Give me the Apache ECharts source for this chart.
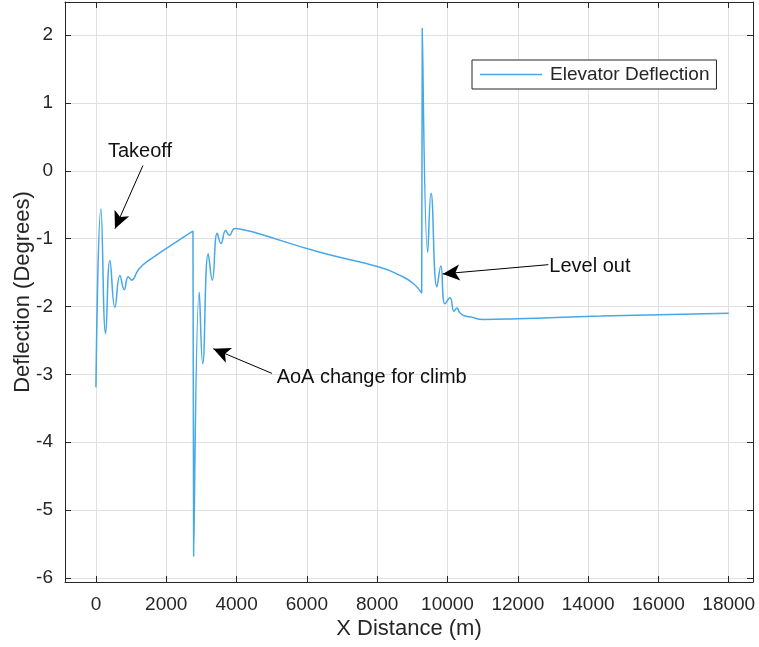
<!DOCTYPE html>
<html>
<head>
<meta charset="utf-8">
<script src="https://cdn.jsdelivr.net/npm/echarts@6/dist/echarts.min.js"></script>
<style>html,body{margin:0;padding:0;background:#fff}#c{width:759px;height:647px}</style>
</head>
<body>
<div id="c"></div>
<script>
// X distance (m)
var xDistance = [0, 142, 276, 398, 541, 683, 805, 919, 1016, 1203, 1442, 2760, 2780, 2939, 3036, 3195, 3309, 3451, 3556, 3690, 3792, 3955, 4287, 4475, 6373, 8080, 8649, 9027, 9266, 9283, 9437, 9531, 9700, 9810, 9930, 10071, 10185, 10270, 10336, 10450, 10640, 11019, 11969, 14357, 18000];
// Elevator deflection (degrees)
var deflection = [-3.19, -0.56, -2.40, -1.32, -2.01, -1.54, -1.75, -1.56, -1.61, -1.46, -1.34, -0.89, -5.68, -1.79, -2.84, -1.22, -1.61, -0.92, -1.07, -0.88, -0.95, -0.85, -0.88, -0.90, -1.20, -1.42, -1.54, -1.66, -1.80, 2.10, -1.20, -0.33, -1.71, -1.40, -1.96, -1.87, -2.07, -2.02, -2.08, -2.13, -2.15, -2.19, -2.18, -2.14, -2.10];
var seriesName = 'Elevator Deflection';
// Annotations: text, text anchor, arrow start, arrow tip (data coords)
var annotationTexts = ['Takeoff', 'AoA change for climb', 'Level out'];
var annotationTextAt = [[341, 0.28], [5140, -3.05], [12897, -1.41]];
var arrowFrom = [[1337, 0.08], [5007, -2.985], [12869, -1.382]];
var arrowTo = [[541, -0.851], [3338, -2.621], [9864, -1.518]];
var xRange = [-880, 18690];
var yRange = [-6.06, 2.49];

var FONT = "'Liberation Sans', Arial, Helvetica, sans-serif";
var INK = '#262626';
var data = xDistance.map(function (x, i) { return [x, deflection[i]]; });

var chart = echarts.init(document.getElementById('c'), null, {renderer: 'canvas'});
function intFmt(step) {
  return function (v) { return Math.abs(v / step - Math.round(v / step)) < 1e-6 ? String(Math.round(v)) : ''; };
}
var baseAxis = {
  axisLine: {show: true, onZero: false, lineStyle: {color: INK, width: 1}},
  axisTick: {show: true, inside: true, length: 6, lineStyle: {color: INK}},
  splitLine: {show: false}
};
var option = {
  animation: false,
  backgroundColor: '#fff',
  textStyle: {fontFamily: FONT},
  grid: {left: 65, right: 6, top: 2, bottom: 65, containLabel: false, outerBoundsMode: 'none'},
  legend: {
    show: true,
    left: 472, top: 60,
    padding: [5, 7, 5, 8],
    itemWidth: 62, itemHeight: 14, itemGap: 7,
    borderColor: INK, borderWidth: 1, borderRadius: 0,
    backgroundColor: '#fff',
    textStyle: {fontFamily: FONT, fontSize: 19, color: INK, padding: [0, 0, 0, 3]},
    data: [{name: seriesName, icon: 'path://M0,0L62,0L62,1.5L0,1.5Z'}]
  },
  xAxis: [
    Object.assign({}, baseAxis, {
      type: 'value', position: 'bottom', min: xRange[0], max: xRange[1], splitNumber: 10,
      name: 'X Distance (m)', nameLocation: 'middle', nameGap: 36, nameMoveOverlap: false,
      nameTextStyle: {fontFamily: FONT, fontSize: 22, color: INK},
      axisLabel: {show: true, margin: 13, fontSize: 19, color: INK, fontFamily: FONT, formatter: intFmt(2000), showMinLabel: false, showMaxLabel: false},
      splitLine: {show: true, lineStyle: {color: '#e0e0e0', width: 1}}
    }),
    Object.assign({}, baseAxis, {
      type: 'value', position: 'top', min: xRange[0], max: xRange[1], splitNumber: 10,
      axisLabel: {show: false}
    })
  ],
  yAxis: [
    Object.assign({}, baseAxis, {
      type: 'value', position: 'left', min: yRange[0], max: yRange[1], splitNumber: 8,
      name: 'Deflection (Degrees)', nameLocation: 'middle', nameGap: 31, nameRotate: 90, nameMoveOverlap: false,
      nameTextStyle: {fontFamily: FONT, fontSize: 22, color: INK},
      axisLabel: {show: true, margin: 12, fontSize: 19, color: INK, fontFamily: FONT, formatter: intFmt(1), showMinLabel: false, showMaxLabel: false},
      splitLine: {show: true, lineStyle: {color: '#e0e0e0', width: 1}}
    }),
    Object.assign({}, baseAxis, {
      type: 'value', position: 'right', min: yRange[0], max: yRange[1], splitNumber: 8,
      axisLabel: {show: false}
    })
  ],
  series: [{
    name: seriesName,
    type: 'line',
    data: data,
    xAxisIndex: 0, yAxisIndex: 0,
    symbol: 'none',
    smooth: 0.5,
    lineStyle: {color: '#45a8e8', width: 1.5},
    itemStyle: {color: '#45a8e8'},
    silent: true,
    markLine: {
      silent: true,
      symbol: ['none', 'arrow'],
      symbolSize: [12, 17],
      lineStyle: {color: '#000', width: 1, type: 'solid'},
      label: {show: false},
      emphasis: {disabled: true},
      animation: false,
      data: arrowFrom.map(function (f, i) {
        return [{coord: f, symbol: 'none'}, {coord: arrowTo[i], symbol: 'arrow'}];
      })
    },
    markPoint: {
      silent: true,
      symbol: 'circle',
      symbolSize: 0,
      animation: false,
      label: {show: true, position: [0, 0], align: 'left', verticalAlign: 'middle', fontFamily: FONT, fontSize: 20, color: '#111'},
      data: annotationTexts.map(function (t, i) {
        return {coord: annotationTextAt[i], value: t, label: {formatter: t}};
      })
    }
  }]
};
chart.setOption(option);
</script>
</body>
</html>
